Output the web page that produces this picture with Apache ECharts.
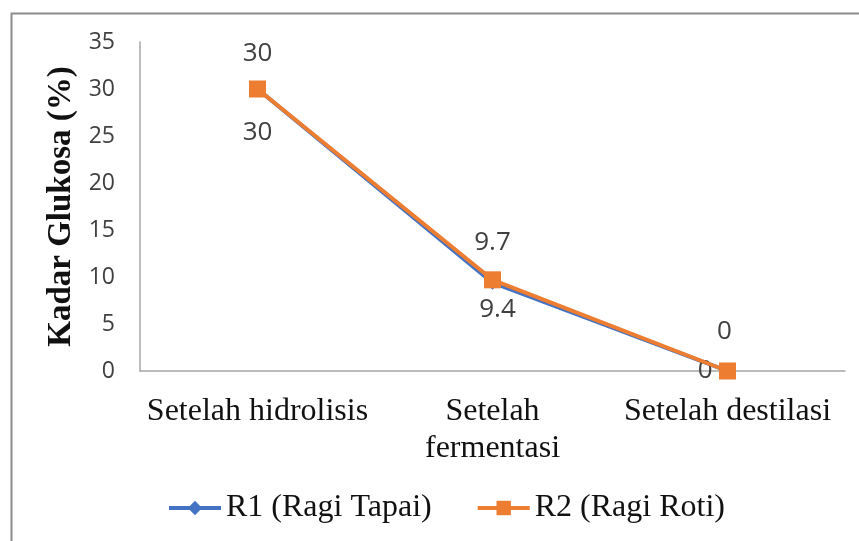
<!DOCTYPE html>
<html>
<head>
<meta charset="utf-8">
<script src="https://cdn.jsdelivr.net/npm/echarts@6/dist/echarts.min.js"></script>
<style>
html,body{margin:0;padding:0;background:#fff;}
#chart{width:859px;height:541px;}
</style>
</head>
<body>
<div id="chart"></div>
<script>
const categories = ['Setelah hidrolisis', 'Setelah\nfermentasi', 'Setelah destilasi'];
const seriesNames = ['R1 (Ragi Tapai)', 'R2 (Ragi Roti)'];
const r1Values = [30, 9.4, 0];
const r2Values = [30, 9.7, 0];
const yTicks = { min: 0, max: 35, interval: 5 };
const yTitle = 'Kadar Glukosa (%)';

const chart = echarts.init(document.getElementById('chart'));
const labelFont = { fontFamily: 'Open Sans', fontSize: 26, color: '#404040' };

const r1LabelCfg = [
  { position: 'bottom', distance: 24 },
  { position: 'bottom', distance: 7, offset: [5, 0] },
  { position: 'left', distance: 8 }
];
const r2LabelCfg = [
  { position: 'top', distance: 14 },
  { position: 'top', distance: 16 },
  { position: 'top', distance: 18, offset: [-3, 0] }
];

chart.setOption({
  animation: false,
  backgroundColor: '#fff',
  graphic: [{
    type: 'rect', silent: true, z: -1,
    shape: { x: 11.5, y: 13.5, width: 900, height: 600 },
    style: { fill: 'none', stroke: '#8c8c8c', lineWidth: 2 }
  }],
  grid: { left: 140, right: 14, top: 42, bottom: 170, containLabel: false },
  legend: {
    bottom: 12,
    left: 162,
    itemWidth: 52, itemHeight: 18, itemGap: 44,
    lineStyle: { width: 4 },
    textStyle: { fontFamily: 'Liberation Serif', fontSize: 32, color: '#111' },
    data: seriesNames
  },
  xAxis: {
    type: 'category',
    data: categories,
    boundaryGap: true,
    axisLine: { lineStyle: { color: '#a6a6a6', width: 1.5 } },
    axisTick: { show: false },
    axisLabel: { fontFamily: 'Liberation Serif', fontSize: 32, color: '#111', lineHeight: 37, margin: 22, interval: 0 }
  },
  yAxis: {
    type: 'value',
    min: yTicks.min, max: yTicks.max, interval: yTicks.interval,
    name: yTitle,
    nameLocation: 'middle',
    nameGap: 60,
    nameRotate: 90,
    nameTextStyle: { fontFamily: 'Liberation Serif', fontSize: 33, fontWeight: 'bold', color: '#111' },
    axisLine: { show: true, lineStyle: { color: '#a6a6a6', width: 1.5 } },
    axisTick: { show: false },
    splitLine: { show: false },
    axisLabel: { fontFamily: 'Open Sans', fontSize: 23, color: '#404040', margin: 25 }
  },
  series: [
    {
      name: seriesNames[0], type: 'line',
      data: r1Values.map((v, i) => ({ value: v, label: Object.assign({ show: true }, labelFont, r1LabelCfg[i]) })),
      symbol: 'diamond', symbolSize: 14, showAllSymbol: true,
      lineStyle: { color: '#4472C4', width: 4 },
      itemStyle: { color: '#4472C4' },
      z: 2
    },
    {
      name: seriesNames[1], type: 'line',
      data: r2Values.map((v, i) => ({ value: v, label: Object.assign({ show: true }, labelFont, r2LabelCfg[i]) })),
      symbol: 'rect', symbolSize: 17, showAllSymbol: true,
      lineStyle: { color: '#ED7D31', width: 4 },
      itemStyle: { color: '#ED7D31' },
      z: 3
    }
  ]
});
</script>
</body>
</html>
